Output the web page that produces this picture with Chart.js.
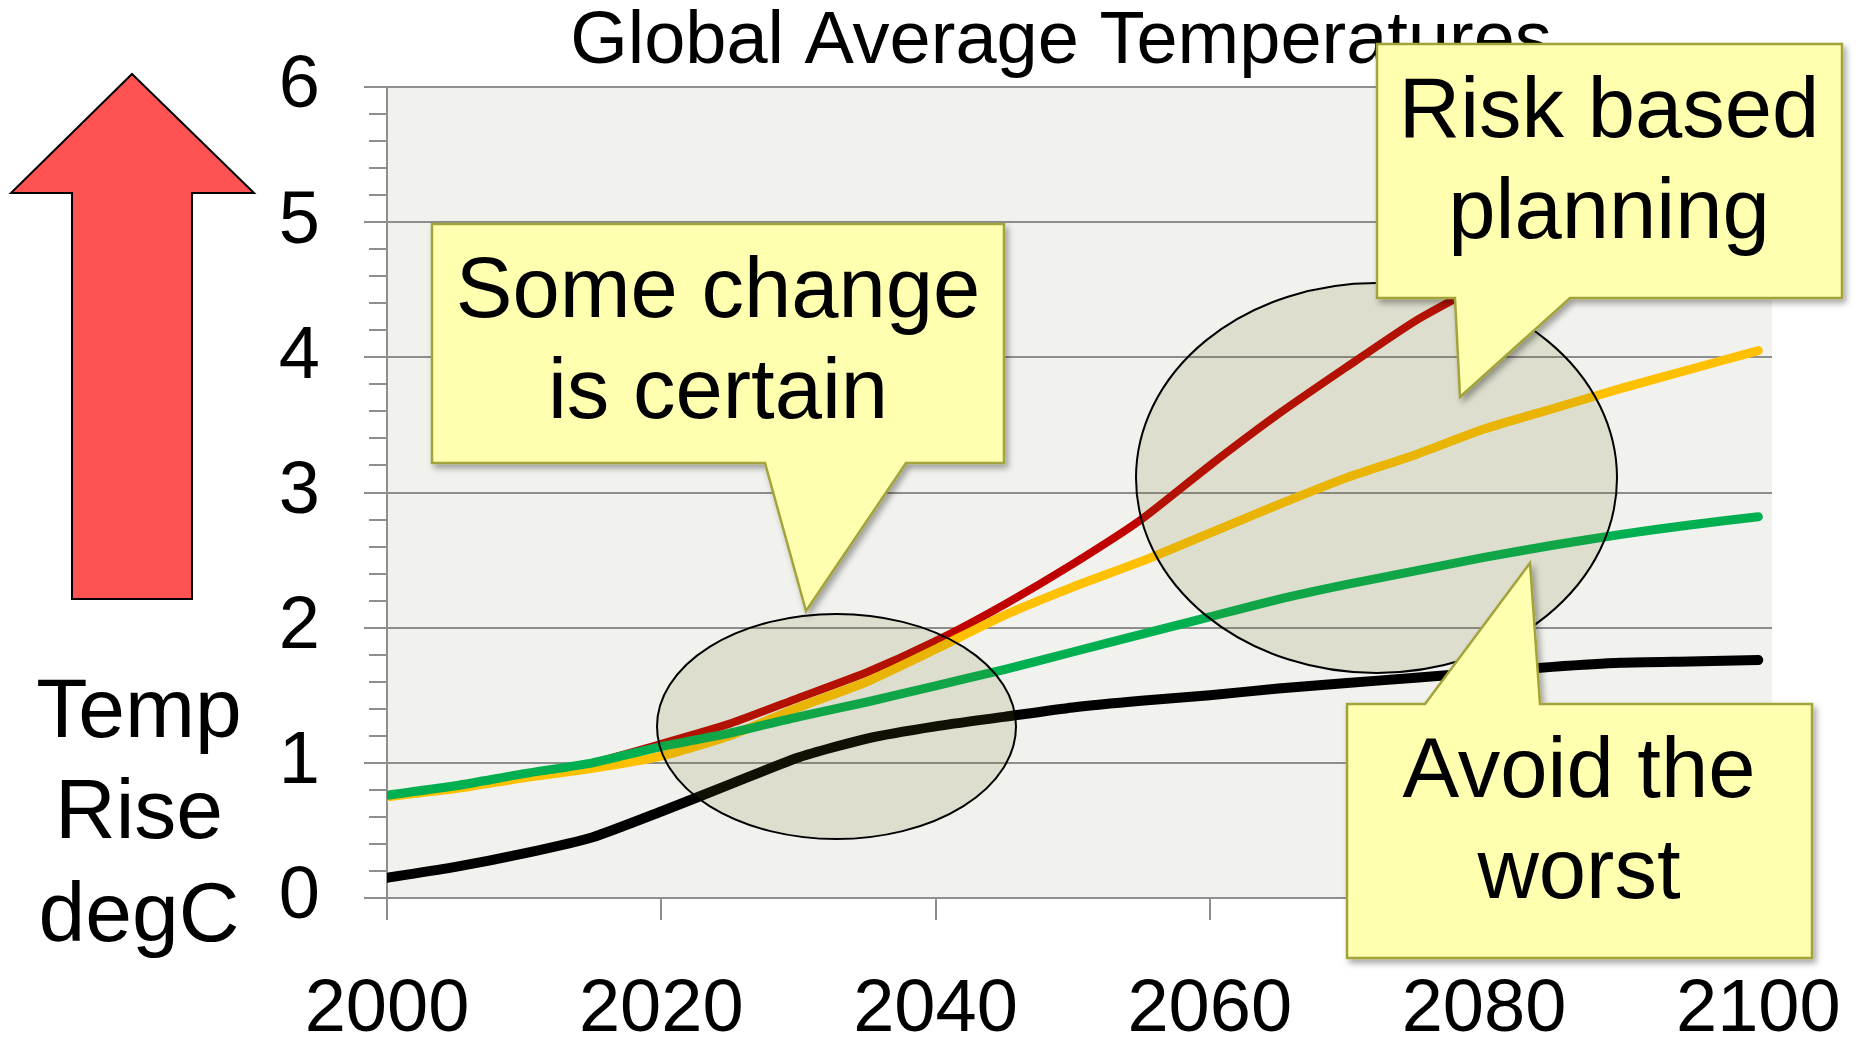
<!DOCTYPE html>
<html>
<head>
<meta charset="utf-8">
<title>Global Average Temperatures</title>
<script src="https://cdn.jsdelivr.net/npm/chart.js@4.4.0/dist/chart.umd.min.js"></script>
<style>
  html, body { margin: 0; padding: 0; background: #fff; }
  #wrap { position: relative; width: 1860px; height: 1039px; overflow: hidden; }
  #chart { position: absolute; left: 0; top: 0; }
  #overlay { position: absolute; left: 0; top: 0; pointer-events: none; }
  #overlay text { font-family: 'Liberation Sans', Arial, sans-serif; fill: #000; }
</style>
</head>
<body>
<div id="wrap">
  <canvas id="chart" width="1860" height="1039"></canvas>
  <svg id="overlay" width="1860" height="1039" viewBox="0 0 1860 1039">
    <defs>
      <filter id="shadow" x="-10%" y="-10%" width="130%" height="130%">
        <feDropShadow dx="3" dy="4" stdDeviation="3" flood-color="#000" flood-opacity="0.35"/>
      </filter>
    </defs>

    <!-- big red arrow + axis caption -->
    <polygon points="132,74 254,193 192,193 192,599 72,599 72,193 11,193" fill="#ff5353" stroke="#000" stroke-width="2"/>
    <text x="139" y="737" font-size="84" text-anchor="middle">Temp</text>
    <text x="139" y="838" font-size="84" text-anchor="middle">Rise</text>
    <text x="139" y="941" font-size="84" text-anchor="middle">degC</text>

    <!-- highlight ellipses -->
    <ellipse cx="836.5" cy="726.5" rx="179.5" ry="112.5" fill="rgba(105,114,26,0.15)" stroke="#000" stroke-width="2"/>
    <ellipse cx="1376.5" cy="478" rx="240.5" ry="195" fill="rgba(105,114,26,0.15)" stroke="#000" stroke-width="2"/>

    <!-- callouts -->
    <g filter="url(#shadow)" fill="#ffffb0" stroke="#a3a33a" stroke-width="2.5">
      <path d="M432,224 H1004 V463 H906 L806,611 L765,463 H432 Z"/>
      <path d="M1377,44 H1842 V298 H1570 L1460,397 L1455,298 H1377 Z"/>
      <path d="M1347,704 H1425 L1530,563 L1540,704 H1812 V958 H1347 Z"/>
    </g>
    <text x="718" y="317" font-size="85" text-anchor="middle">Some change</text>
    <text x="718" y="418" font-size="85" text-anchor="middle">is certain</text>
    <text x="1609" y="137" font-size="85" text-anchor="middle">Risk based</text>
    <text x="1609" y="238" font-size="85" text-anchor="middle">planning</text>
    <text x="1579" y="797" font-size="85" text-anchor="middle">Avoid the</text>
    <text x="1579" y="898" font-size="85" text-anchor="middle">worst</text>
  </svg>
</div>
<script>
// --- data (temperature rise, degC) ---
const years = [2000, 2005, 2010, 2015, 2020, 2025, 2030, 2035, 2040, 2045, 2050,
               2055, 2060, 2065, 2070, 2075, 2080, 2085, 2090, 2095, 2100];
const blackVals  = [0.15, 0.23, 0.33, 0.45, 0.64, 0.84, 1.04, 1.18, 1.27, 1.34, 1.41,
                    1.46, 1.50, 1.55, 1.59, 1.63, 1.67, 1.71, 1.74, 1.75, 1.76];
const greenVals  = [0.76, 0.83, 0.92, 1.00, 1.12, 1.22, 1.34, 1.45, 1.57, 1.69, 1.82,
                    1.95, 2.08, 2.21, 2.32, 2.42, 2.52, 2.61, 2.69, 2.76, 2.82];
const yellowVals = [0.75, 0.81, 0.89, 0.96, 1.05, 1.20, 1.41, 1.60, 1.84, 2.09, 2.30,
                    2.49, 2.70, 2.91, 3.11, 3.28, 3.47, 3.62, 3.77, 3.91, 4.05];
const redVals    = [0.75, 0.82, 0.90, 1.00, 1.14, 1.29, 1.48, 1.67, 1.90, 2.17, 2.47,
                    2.80, 3.20, 3.58, 3.93, 4.27, 4.55, 4.85, 5.15, 5.45, 5.75];
const xTicks = [2000, 2020, 2040, 2060, 2080, 2100];
const yTicks = [0, 1, 2, 3, 4, 5, 6];

const FONT = "'Liberation Sans', Arial, sans-serif";
const GRID = '#8e8e8e';
const pts = vals => years.map((x, i) => ({ x, y: vals[i] }));
const line = (data, color, w) => ({
    data: pts(data), borderColor: color, borderWidth: w, pointRadius: 0,
    borderCapStyle: 'round', borderJoinStyle: 'round', tension: 0.2, fill: false
});

// plot background + minor ticks on the value axis
const plotBg = {
    id: 'plotBg',
    beforeDraw(chart) {
        const a = chart.chartArea, c = chart.ctx;
        c.save(); c.fillStyle = '#f1f1ed';
        c.fillRect(a.left, a.top, a.right - a.left, a.bottom - a.top);
        c.restore();
    },
    afterDraw(chart) {
        const y = chart.scales.y, c = chart.ctx, left = chart.chartArea.left;
        c.save(); c.strokeStyle = GRID; c.lineWidth = 2;
        for (let v = 0.2; v < 6; v += 0.2) {
            if (Math.abs(v - Math.round(v)) < 0.01) continue;
            const p = Math.round(y.getPixelForValue(v));
            c.beginPath(); c.moveTo(left - 18, p); c.lineTo(left, p); c.stroke();
        }
        c.restore();
    }
};

new Chart(document.getElementById('chart'), {
    type: 'line',
    data: {
        datasets: [
            line(blackVals, '#000000', 10),
            line(greenVals, '#00b050', 9),
            line(yellowVals, '#ffc000', 9),
            line(redVals, '#c00000', 8)
        ]
    },
    options: {
        responsive: false, animation: false, devicePixelRatio: 1,
        layout: { padding: { left: 262, right: 0, top: 0, bottom: 0 } },
        plugins: {
            legend: { display: false }, tooltip: { enabled: false },
            title: {
                display: true, text: 'Global Average Temperatures', color: '#000',
                font: { family: FONT, size: 74, weight: 'normal', lineHeight: 1 },
                padding: { top: 6, bottom: 7 }
            }
        },
        scales: {
            x: {
                type: 'linear', min: 2000, max: 2101,
                afterFit(s) { s.height = 141; },
                afterBuildTicks(s) { s.ticks = xTicks.map(v => ({ value: v })); },
                ticks: { includeBounds: false, padding: 0, color: '#000', maxRotation: 0,
                         font: { family: FONT, size: 74, lineHeight: 2.44 }, callback: v => String(v) },
                grid: { drawOnChartArea: false, color: GRID, lineWidth: 2, tickLength: 22 },
                border: { display: true, color: GRID, width: 2 }
            },
            y: {
                min: 0, max: 6,
                afterFit(s) { s.width = 125; },
                afterBuildTicks(s) { s.ticks = yTicks.map(v => ({ value: v })); },
                ticks: { padding: 44, color: '#000', font: { family: FONT, size: 74, lineHeight: 1 } },
                grid: { color: GRID, lineWidth: 2, tickLength: 23 },
                border: { display: true, color: GRID, width: 2 }
            },
            // empty spacer on the right so the plot ends where the picture's does
            yRight: {
                position: 'right', min: 0, max: 6,
                afterFit(s) { s.width = 88; },
                ticks: { display: false }, grid: { display: false }, border: { display: false }
            }
        }
    },
    plugins: [plotBg]
});
</script>
</body>
</html>
